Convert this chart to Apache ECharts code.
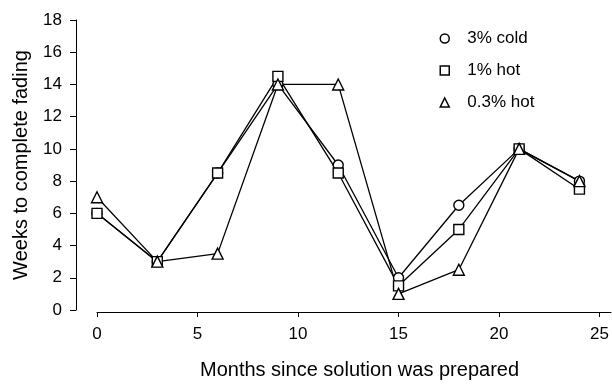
<!DOCTYPE html>
<html>
<head>
<meta charset="utf-8">
<script src="https://cdn.jsdelivr.net/npm/echarts@6/dist/echarts.min.js"></script>
<style>html,body{margin:0;padding:0;background:#fff}#c{width:612px;height:385px}</style>
</head>
<body>
<div id="c"></div>
<script>
var months = [0, 3, 6, 9, 12, 15, 18, 21, 24];
var cold3 = [6, 3, 8.5, 14, 9, 2, 6.5, 10, 8];
var hot1 = [6, 3, 8.5, 14.5, 8.5, 1.5, 5, 10, 7.5];
var hot03 = [7, 3, 3.5, 14, 14, 1, 2.5, 10, 8];
var seriesNames = ['3% cold', '1% hot', '0.3% hot'];
var xTicks = [0, 5, 10, 15, 20, 25];
var yTicks = [0, 2, 4, 6, 8, 10, 12, 14, 16, 18];

function pairs(ys) { return months.map(function (m, i) { return [m, ys[i]]; }); }
var font = 'Liberation Sans, Arial, sans-serif';
function mk(name, data, sym, size) {
  return {
    name: name, type: 'line', data: pairs(data), symbol: sym, symbolSize: size,
    showAllSymbol: true, clip: false,
    lineStyle: { color: '#000', width: 1.3 },
    itemStyle: { color: '#fff', borderColor: '#000', borderWidth: 1.4 },
    emphasis: { disabled: true }
  };
}
var chart = echarts.init(document.getElementById('c'));
chart.setOption({
  animation: false,
  backgroundColor: '#fff',
  grid: { left: 97, right: 0, top: 20, bottom: 70 },
  legend: {
    orient: 'vertical', left: 434.5, top: 25, itemWidth: 9, itemHeight: 9, itemGap: 15,
    data: [{ name: seriesNames[0], icon: 'circle' }, { name: seriesNames[1], icon: 'rect' }, { name: seriesNames[2], icon: 'triangle' }],
    textStyle: { fontFamily: font, fontSize: 17, color: '#000', lineHeight: 17, padding: [0, 0, 0, 13] },
    itemStyle: { color: '#fff', borderColor: '#000', borderWidth: 1.5 }
  },
  xAxis: {
    type: 'value', min: 0, max: 25.57, offset: 2,
    name: 'Months since solution was prepared', nameLocation: 'middle', nameGap: 48,
    nameTextStyle: { fontFamily: font, fontSize: 20, color: '#000', padding: [0, 0, 0, 11] },
    axisLine: { show: true, onZero: false, lineStyle: { color: '#000', width: 1 } },
    axisTick: { show: true, length: 5, customValues: xTicks, lineStyle: { color: '#000' } },
    axisLabel: { customValues: xTicks, margin: 14, fontFamily: font, fontSize: 17, color: '#000' },
    splitLine: { show: false }
  },
  yAxis: {
    type: 'value', min: 0, max: 18, interval: 2, offset: 21,
    name: 'Weeks to complete fading', nameLocation: 'middle', nameGap: 45,
    nameTextStyle: { fontFamily: font, fontSize: 20, color: '#000' },
    axisLine: { show: true, onZero: false, lineStyle: { color: '#000', width: 1 } },
    axisTick: { show: true, length: 6, lineStyle: { color: '#000' } },
    axisLabel: { margin: 14, fontFamily: font, fontSize: 17, color: '#000' },
    splitLine: { show: false }
  },
  series: [
    mk(seriesNames[0], cold3, 'circle', 10),
    mk(seriesNames[1], hot1, 'rect', 10),
    mk(seriesNames[2], hot03, 'triangle', 11)
  ]
});
</script>
</body>
</html>
